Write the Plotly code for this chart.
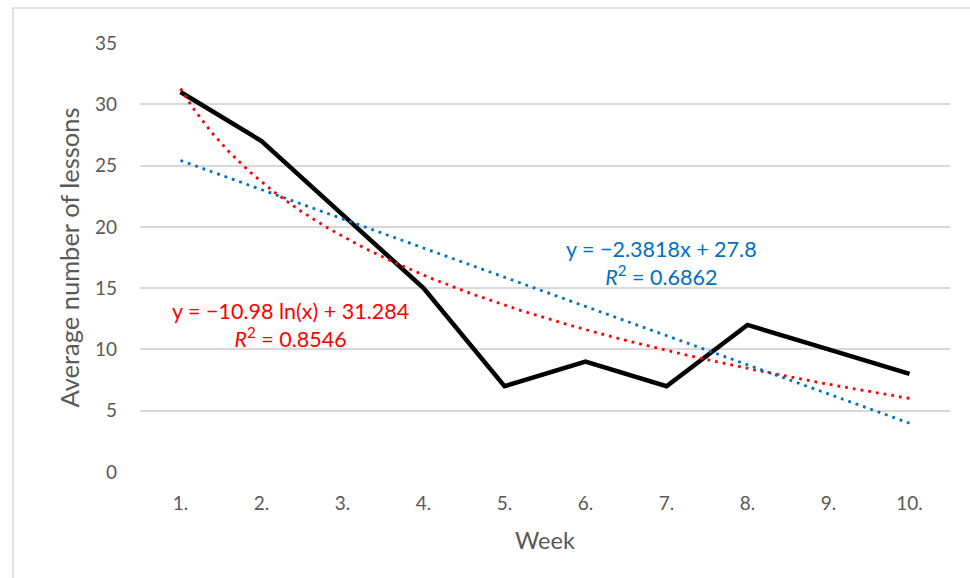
import numpy as np
import plotly.graph_objects as go

weeks = [1, 2, 3, 4, 5, 6, 7, 8, 9, 10]
week_labels = ["1.", "2.", "3.", "4.", "5.", "6.", "7.", "8.", "9.", "10."]
lessons = [31, 27, 21, 15, 7, 9, 7, 12, 10, 8]
y_ticks = [0, 5, 10, 15, 20, 25, 30, 35]

x = np.array(weeks, dtype=float)
y = np.array(lessons, dtype=float)

# Trendlines fitted from the data (as the spreadsheet does)
lin_slope, lin_int = np.polyfit(x, y, 1)
log_slope, log_int = np.polyfit(np.log(x), y, 1)
xs = np.linspace(x.min(), x.max(), 200)

FONT = "Lato"
GRAY = "#595959"
RED = "#FF0000"
BLUE = "#0070C0"

fig = go.Figure()
fig.add_trace(go.Scatter(x=weeks, y=lessons, mode="lines",
                         line=dict(color="black", width=4.5), hoverinfo="skip"))
fig.add_trace(go.Scatter(x=xs, y=log_slope * np.log(xs) + log_int, mode="lines",
                         line=dict(color=RED, width=2.8, dash="2.8px,5px"), hoverinfo="skip"))
fig.add_trace(go.Scatter(x=xs, y=lin_slope * xs + lin_int, mode="lines",
                         line=dict(color=BLUE, width=2.8, dash="2.8px,5px"), hoverinfo="skip"))

fig.update_layout(
    width=970, height=578,
    margin=dict(l=140, r=20, t=43, b=106),
    paper_bgcolor="white", plot_bgcolor="white",
    showlegend=False,
    font=dict(family=FONT, color=GRAY, size=19),
    xaxis=dict(range=[0.5, 10.5], tickmode="array", tickvals=weeks, ticktext=week_labels,
               showgrid=False, zeroline=False, showline=False, ticks="",
               ticklabelstandoff=18,
               tickfont=dict(size=19, color=GRAY),
               title=dict(text="Week", font=dict(size=23.5, color=GRAY), standoff=19)),
    yaxis=dict(range=[0, 35], tickmode="array", tickvals=y_ticks,
               showgrid=True, gridcolor="#D9D9D9", gridwidth=1.5, zeroline=False,
               showline=False, ticks="", ticklabelstandoff=22,
               tickfont=dict(size=19, color=GRAY),
               title=dict(text="Average number of lessons", font=dict(size=25.5, color=GRAY), standoff=8)),
    shapes=[dict(type="rect", xref="paper", yref="paper",
                 x0=(13 - 140) / 810, x1=(980 - 140) / 810,
                 y0=-(590 - 472) / 429, y1=1 + (43 - 8) / 429,
                 line=dict(color="#D9D9D9", width=1.5), fillcolor="rgba(0,0,0,0)", layer="below")],
    annotations=[
        dict(x=(290 - 140) / 810, y=(472 - 312) / 429, xref="paper", yref="paper",
             text="y = −10.98 ln(x) + 31.284<br><i>R</i><sup>2</sup> = 0.8546",
             showarrow=False, align="center", xanchor="center",
             font=dict(family=FONT, size=21.5, color=RED),
             yanchor="top", yshift=16),
        dict(x=(661 - 140) / 810, y=(472 - 250) / 429, xref="paper", yref="paper",
             text="y = −2.3818x + 27.8<br><i>R</i><sup>2</sup> = 0.6862",
             showarrow=False, align="center", xanchor="center",
             font=dict(family=FONT, size=21.5, color=BLUE),
             yanchor="top", yshift=16),
    ],
)

fig.write_html("out.html", post_script="document.body.style.margin='0';",
               config={"displayModeBar": False})
